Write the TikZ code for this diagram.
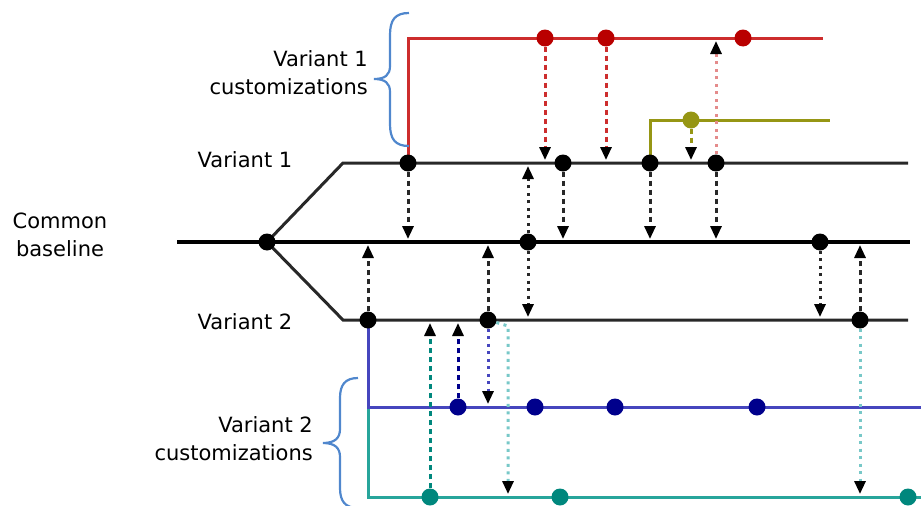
\documentclass[tikz,border=0pt]{standalone}
\usepackage{fontspec}
\setmainfont{DejaVu Sans}
\usetikzlibrary{arrows.meta}
\definecolor{vred}{RGB}{205,45,45}
\definecolor{vreddot}{RGB}{185,0,0}
\definecolor{volive}{RGB}{150,150,20}
\definecolor{vnavy}{RGB}{70,70,190}
\definecolor{vnavydot}{RGB}{0,0,140}
\definecolor{vteal}{RGB}{40,165,155}
\definecolor{vtealdot}{RGB}{0,135,125}
\definecolor{vltteal}{RGB}{120,200,200}
\definecolor{vbrace}{RGB}{80,135,205}
\definecolor{vgray}{RGB}{40,40,40}
\tikzset{
  dot/.style={circle,fill=#1,inner sep=0pt,minimum size=17pt},
  branch/.style={line width=3pt,draw=vgray},
  trunk/.style={line width=4.8pt,draw=black},
  custline/.style={line width=3pt,draw=#1},
  link/.style={line width=3pt,draw=#1,-{Triangle[length=13pt,width=11pt,color=black]}},
  dsh/.style={dash pattern=on 5.5pt off 3.5pt},
  dtt/.style={dash pattern=on 3pt off 4.5pt},
  lbl/.style={font=\fontsize{21}{28}\selectfont,text=black,inner sep=0pt},
  curly/.style={draw=vbrace,line width=2.2pt}
}
\begin{document}
\begin{tikzpicture}[x=1pt,y=-1pt]
\useasboundingbox (0,0) rectangle (921,506);
\clip (0,0) rectangle (921,506);

% main timelines
\draw[trunk] (177,242) -- (910,242);
\draw[branch] (267,242) -- (343,163) -- (908,163);
\draw[branch] (267,242) -- (343,320) -- (908,320);

% customization lines
\draw[custline=vred] (408,163) -- (408,38) -- (823,38);
\draw[custline=volive] (650,163) -- (650,120) -- (830,120);
\draw[custline=vteal] (368,407) -- (368,497) -- (921,497);
\draw[custline=vnavy] (368,320) -- (368,407) -- (921,407);

% braces
\draw[curly] (409,13) .. controls (395,13) and (390,20) .. (390,35) -- (390,66)
  .. controls (390,75) and (385,79) .. (374,79)
  .. controls (385,79) and (390,83) .. (390,92) -- (390,124)
  .. controls (390,139) and (395,146) .. (409,146);
\draw[curly] (358,378) .. controls (345,378) and (340,385) .. (340,398) -- (340,429)
  .. controls (340,438) and (335,443) .. (323,443)
  .. controls (335,443) and (340,448) .. (340,457) -- (340,488)
  .. controls (340,501) and (345,508) .. (358,508);

% labels
\node[lbl,align=right,anchor=east] (l1c) at (368,73) {Variant 1\\customizations};
\node[lbl] (l1) at (245,160) {Variant 1};
\node[lbl,align=center] (lb) at (60,235) {Common\\baseline};
\node[lbl] (l2) at (245,322) {Variant 2};
\node[lbl,align=right,anchor=east] (l2c) at (313,439) {Variant 2\\customizations};

% commits: baseline
\node[dot=black] (b0) at (267,242) {};
\node[dot=black] (b1) at (528,242) {};
\node[dot=black] (b2) at (820,242) {};
% commits: variant 1
\node[dot=black] (a1) at (408,163) {};
\node[dot=black] (a2) at (563,163) {};
\node[dot=black] (a3) at (650,163) {};
\node[dot=black] (a4) at (716,163) {};
% commits: variant 2
\node[dot=black] (c1) at (368,320) {};
\node[dot=black] (c2) at (488,320) {};
\node[dot=black] (c3) at (860,320) {};
% commits: variant 1 customizations
\node[dot=vreddot] (r1) at (545,38) {};
\node[dot=vreddot] (r2) at (606,38) {};
\node[dot=vreddot] (r3) at (743,38) {};
\node[dot=volive] (o1) at (691,120) {};
% commits: variant 2 customizations
\node[dot=vnavydot] (n1) at (458,407) {};
\node[dot=vnavydot] (n2) at (535,407) {};
\node[dot=vnavydot] (n3) at (615,407) {};
\node[dot=vnavydot] (n4) at (757,407) {};
\node[dot=vtealdot] (t1) at (430,497) {};
\node[dot=vtealdot] (t2) at (560,497) {};
\node[dot=vtealdot] (t3) at (908,497) {};

% arrow targets on the lines
\coordinate (pr1) at (545,160);
\coordinate (pr2) at (606,160);
\coordinate (po1) at (691,160);
\coordinate (pa4) at (716,41);
\coordinate (qa1) at (408,239);
\coordinate (qa2) at (563,239);
\coordinate (qa3) at (650,239);
\coordinate (qa4) at (716,239);
\coordinate (qb1u) at (528,166);
\coordinate (qb1d) at (528,317);
\coordinate (qc1) at (368,245);
\coordinate (qc2) at (488,245);
\coordinate (qb2) at (820,317);
\coordinate (qc3) at (860,245);
\coordinate (qt1) at (430,323);
\coordinate (qn1) at (458,323);
\coordinate (qc2n) at (488,404);
\coordinate (sc2t) at (508,326);
\coordinate (qc2t) at (508,494);
\coordinate (qc3t) at (860,494);

% merges into variant 1
\draw[link=vred,dsh] (r1) -- (pr1);
\draw[link=vred,dsh] (r2) -- (pr2);
\draw[link=volive,dsh] (o1) -- (po1);
\draw[link=vred!55,dtt] (a4) -- (pa4);
% variant 1 <-> baseline
\draw[link=vgray,dsh] (a1) -- (qa1);
\draw[link=vgray,dsh] (a2) -- (qa2);
\draw[link=vgray,dsh] (a3) -- (qa3);
\draw[link=vgray,dsh] (a4) -- (qa4);
\draw[link=vgray,dtt] (b1) -- (qb1u);
% baseline <-> variant 2
\draw[link=vgray,dtt] (b1) -- (qb1d);
\draw[link=vgray,dtt] (b2) -- (qb2);
\draw[link=vgray,dsh] (c1) -- (qc1);
\draw[link=vgray,dsh] (c2) -- (qc2);
\draw[link=vgray,dsh] (c3) -- (qc3);
% variant 2 <-> its customizations
\draw[link=vtealdot,dsh] (t1) -- (qt1);
\draw[link=vnavydot,dsh] (n1) -- (qn1);
\draw[link=vnavy,dtt] (c2) -- (qc2n);
\draw[link=vltteal,dtt] (c2) -- (sc2t) -- (qc2t);
\draw[link=vltteal,dtt] (c3) -- (qc3t);
\end{tikzpicture}
\end{document}
